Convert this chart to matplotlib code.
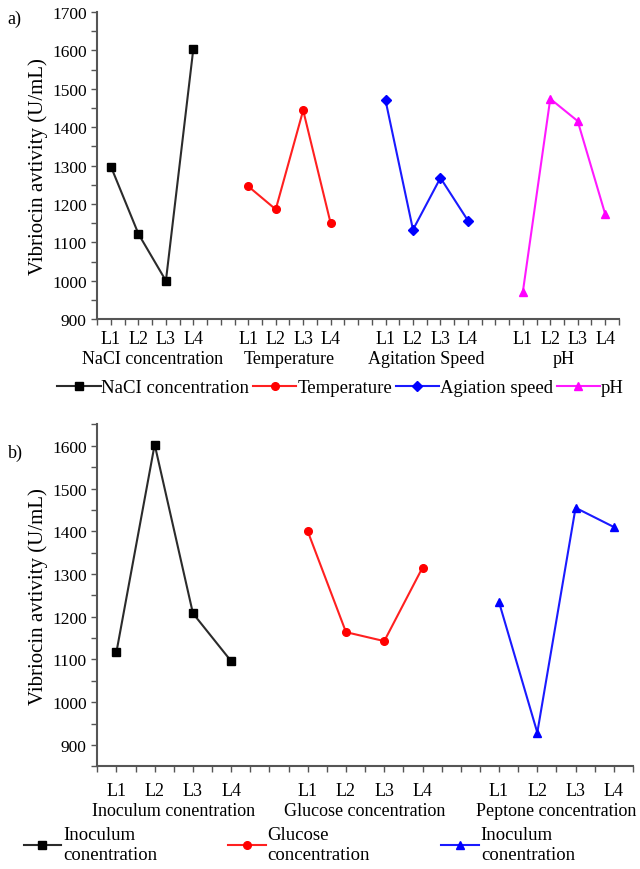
import numpy as np
import matplotlib
matplotlib.use("Agg")
import matplotlib.pyplot as plt

plt.rcParams['font.family'] = ['Liberation Serif', 'DejaVu Serif']
plt.rcParams['font.size'] = 12.5

levels = ['L1', 'L2', 'L3', 'L4']

# panel a
groups_a = ['NaCI concentration', 'Temperature', 'Agitation Speed', 'pH']
legend_a = ['NaCI concentration', 'Temperature', 'Agiation speed', 'pH']
nacl = [1297, 1122, 1000, 1605]
temperature = [1246, 1186, 1444, 1150]
agitation = [1470, 1133, 1268, 1157]
ph = [970, 1474, 1416, 1174]

# panel b
groups_b = ['Inoculum conentration', 'Glucose concentration', 'Peptone concentration']
legend_b = ['Inoculum\nconentration', 'Glucose\nconcentration', 'Inoculum\nconentration']
inoculum = [1117, 1603, 1208, 1096]
glucose = [1400, 1164, 1143, 1315]
peptone = [1234, 929, 1455, 1410]

colors = ['#2b2b2b', '#ff2020', '#1a1aff', '#ff1aff']
mcolors = ['black', 'red', 'blue', 'magenta']


def setup(ax, series, groups, labels, markers, ylim, yticks, lab_off, grp_off):
    xs_all = []
    lines = []
    for i, vals in enumerate(series):
        xs = np.arange(4) + 1 + 5 * i
        xs_all.extend(xs)
        ms = 5 if markers[i] == 'D' else 5.5
        ln, = ax.plot(xs, vals, color=colors[i], lw=1.5, marker=markers[i], ms=ms,
                      mfc=mcolors[i], mec=mcolors[i], label=labels[i])
        lines.append(ln)
        ax.annotate(groups[i], xy=(xs.mean(), 0), xycoords=('data', 'axes fraction'),
                    xytext=(0, -grp_off), textcoords='offset points',
                    ha='center', va='center', fontsize=13)
    n = len(series)
    ax.set_xlim(0.5, 5 * n - 0.5)
    ax.set_ylim(*ylim)
    ax.set_xticks(xs_all)
    ax.set_xticklabels(levels * n, fontsize=13)
    ax.set_xticks(np.arange(0.5, 5 * n, 0.5), minor=True)
    ax.set_yticks(yticks)
    ax.set_yticks(np.arange(ylim[0], ylim[1] + 1, 50), minor=True)
    ax.tick_params(axis='both', which='both', direction='out', length=4, width=1, color='#555555')
    ax.tick_params(axis='x', pad=lab_off)
    for s in ['top', 'right']:
        ax.spines[s].set_visible(False)
    for s in ['left', 'bottom']:
        ax.spines[s].set_color('#555555')
        ax.spines[s].set_linewidth(1.5)
    ax.set_ylabel('Vibriocin avtivity (U/mL)', fontsize=15, labelpad=3)
    return lines


fig = plt.figure(figsize=(6.4, 8.7), dpi=100)

ax1 = fig.add_axes([0.152, 0.632, 0.815, 0.353])
l1 = setup(ax1, [nacl, temperature, agitation, ph], groups_a, legend_a,
           ['s', 'o', 'D', '^'], (900, 1700), np.arange(900, 1701, 100), 3.5, 28)
fig.text(0.012, 0.978, 'a)', fontsize=13, ha='left', va='center')
fig.legend(handles=l1, loc='center left', bbox_to_anchor=(0.078, 0.553), ncol=4,
           frameon=False, handlelength=2.3, handletextpad=0.05, columnspacing=0.2,
           borderaxespad=0, fontsize=13.5)

ax2 = fig.add_axes([0.152, 0.118, 0.837, 0.393])
l2 = setup(ax2, [inoculum, glucose, peptone], groups_b, legend_b,
           ['s', 'o', '^'], (850, 1650), np.arange(900, 1601, 100), 7, 32)
fig.text(0.012, 0.479, 'b)', fontsize=13, ha='left', va='center')
fig.legend(handles=l2, loc='center left', bbox_to_anchor=(0.025, 0.028), ncol=3,
           frameon=False, handlelength=2.0, handletextpad=0.1, columnspacing=3.8,
           borderaxespad=0, fontsize=13.5, labelspacing=0.2)

fig.savefig('out.png', dpi=100)
